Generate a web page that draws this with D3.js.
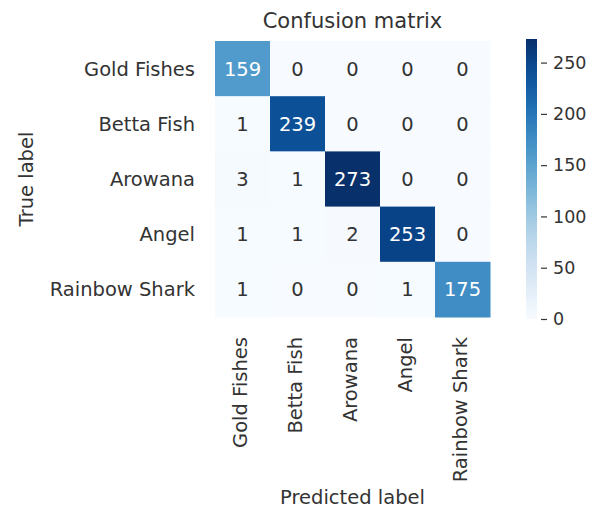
<!DOCTYPE html>
<html><head><meta charset="utf-8">
<script src="https://cdn.jsdelivr.net/npm/d3@7"></script>
<style>body{margin:0;background:#fff}svg{display:block}text{font-family:"DejaVu Sans",sans-serif;fill:#333}</style>
</head><body><svg id="c" width="594" height="513"></svg>
<script>
const labels = ["Gold Fishes","Betta Fish","Arowana","Angel","Rainbow Shark"];
const matrix = [
  [159,0,0,0,0],
  [1,239,0,0,0],
  [3,1,273,0,0],
  [1,1,2,253,0],
  [1,0,0,1,175]
];
const cbTicks = [0,50,100,150,200,250];
const title = "Confusion matrix";
const xTitle = "Predicted label", yTitle = "True label";

const svg = d3.select("#c");
const gx0 = 215, gx1 = 490, gy0 = 41, gy1 = 317;
const x = d3.scaleBand().domain(labels).range([gx0, gx1]);
const y = d3.scaleBand().domain(labels).range([gy0, gy1]);
const vmax = d3.max(matrix.flat());
const color = d3.scaleSequential(d3.interpolateBlues).domain([0, vmax]);

const cells = [];
matrix.forEach((row,i)=>row.forEach((v,j)=>cells.push({r:labels[i],c:labels[j],v})));
svg.selectAll("rect.cell").data(cells).join("rect").attr("class","cell")
  .attr("x",d=>x(d.c)).attr("y",d=>y(d.r))
  .attr("width",x.bandwidth()+0.5).attr("height",y.bandwidth()+0.5)
  .attr("fill",d=>color(d.v));
svg.selectAll("text.val").data(cells).join("text").attr("class","val")
  .attr("x",d=>x(d.c)+x.bandwidth()/2).attr("y",d=>y(d.r)+y.bandwidth()/2)
  .attr("dy","0.36em").attr("text-anchor","middle").attr("font-size",19.5)
  .style("fill",d=>d.v > vmax*0.45 ? "#fff" : "#333").text(d=>d.v);

// y tick labels
svg.selectAll("text.yl").data(labels).join("text").attr("class","yl")
  .attr("x",gx0-20).attr("y",d=>y(d)+y.bandwidth()/2).attr("dy","0.36em")
  .attr("text-anchor","end").attr("font-size",19.5).text(d=>d);
// x tick labels rotated
svg.selectAll("text.xl").data(labels).join("text").attr("class","xl")
  .attr("transform",d=>`translate(${x(d)+x.bandwidth()/2},${gy1+20}) rotate(-90)`)
  .attr("dy","0.22em").attr("text-anchor","end").attr("font-size",19.5).text(d=>d);

svg.append("text").attr("x",(gx0+gx1)/2).attr("y",28).attr("text-anchor","middle")
  .attr("font-size",21).text(title);
svg.append("text").attr("x",(gx0+gx1)/2).attr("y",504).attr("text-anchor","middle")
  .attr("font-size",19.5).text(xTitle);
svg.append("text").attr("transform",`translate(33,${(gy0+gy1)/2}) rotate(-90)`)
  .attr("text-anchor","middle").attr("font-size",19.5).text(yTitle);

// colorbar
const cbx = 526, cbw = 11, cby0 = 39, cby1 = 319;
const cs = d3.scaleLinear().domain([0, vmax]).range([cby1, cby0]);
const defs = svg.append("defs");
const grad = defs.append("linearGradient").attr("id","g").attr("x1",0).attr("x2",0).attr("y1",1).attr("y2",0);
d3.range(0,1.0001,0.05).forEach(t=>grad.append("stop").attr("offset",t).attr("stop-color",d3.interpolateBlues(t)));
svg.append("rect").attr("x",cbx).attr("y",cby0).attr("width",cbw).attr("height",cby1-cby0).attr("fill","url(#g)");
const ax = svg.append("g").attr("transform",`translate(${cbx+cbw},0)`)
  .call(d3.axisRight(cs).tickValues(cbTicks).tickSize(0).tickPadding(0).tickFormat(d3.format("d")));
ax.select(".domain").remove();
ax.selectAll(".tick line").attr("x1",4).attr("x2",10).attr("stroke","#333").attr("stroke-width",1.2);
ax.selectAll(".tick text").attr("x",16).attr("font-size",17.5).attr("font-family","DejaVu Sans").style("fill","#333");
</script></body></html>
